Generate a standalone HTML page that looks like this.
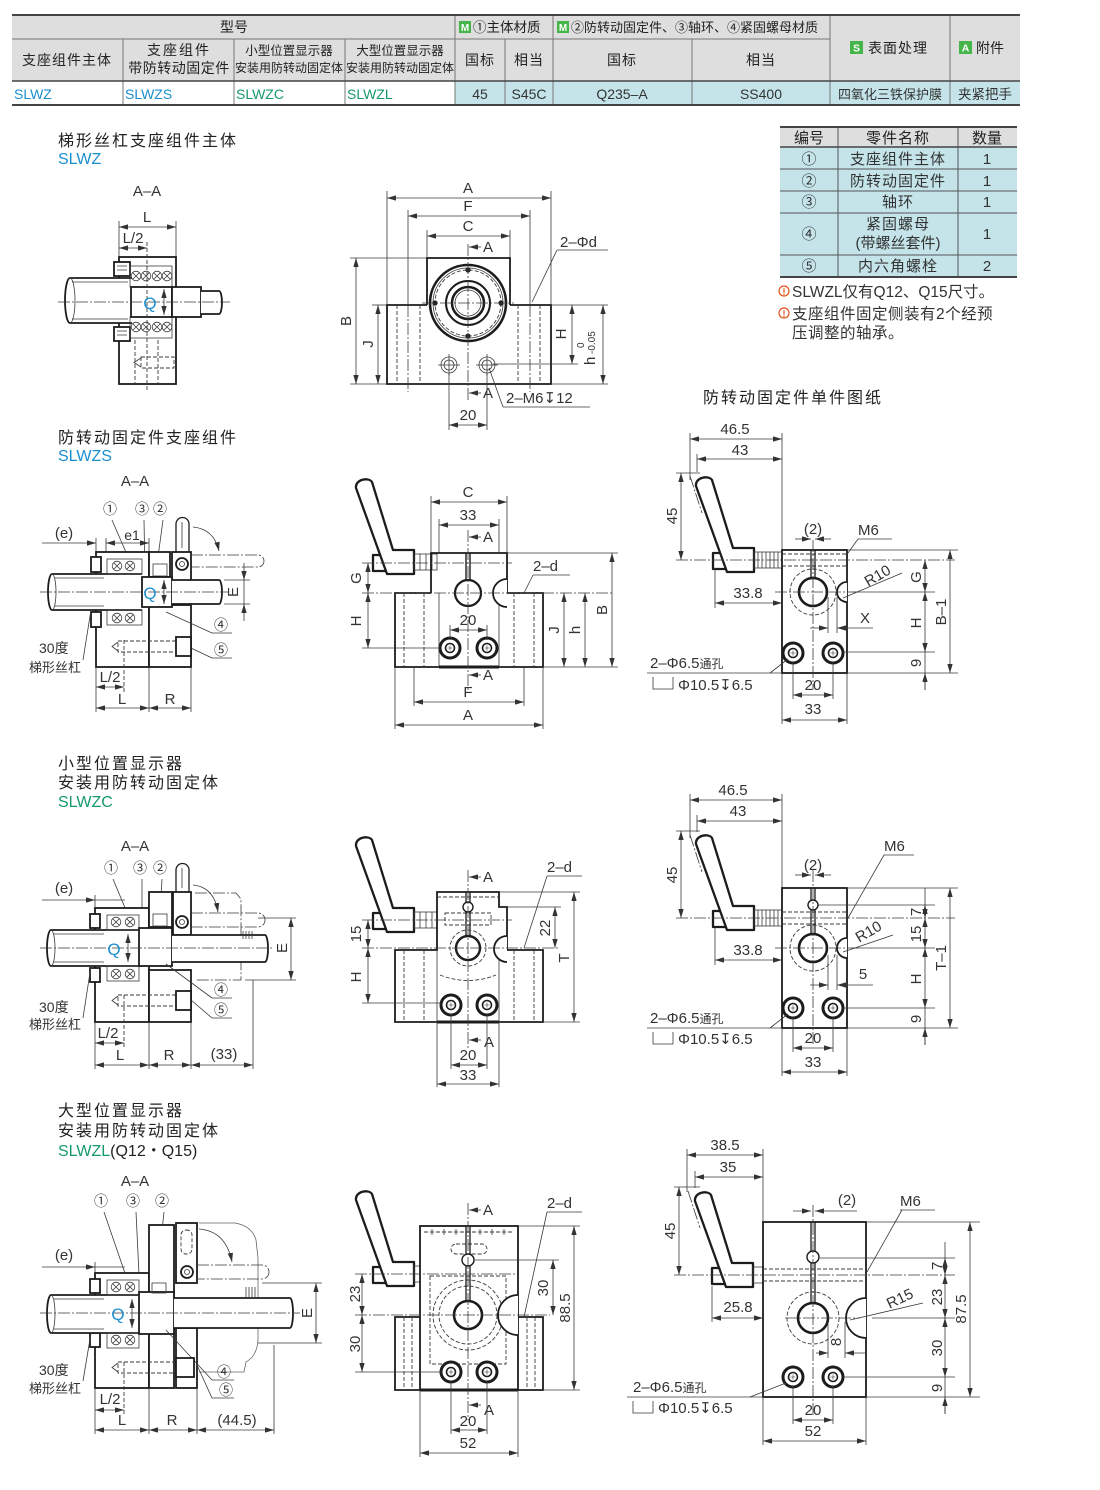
<!DOCTYPE html>
<html><head><meta charset="utf-8">
<style>
html,body{margin:0;padding:0;background:#fff}
svg{display:block}
.k{stroke:#1c1c1c;stroke-width:1.8;fill:none}
.kw{stroke:#1c1c1c;stroke-width:1.8;fill:#fff}
.hk{stroke:#1c1c1c;stroke-width:2.3;fill:#fff;stroke-linejoin:round}
.t{stroke:#3a3a3a;stroke-width:.8;fill:none}
.d{stroke:#3a3a3a;stroke-width:.9;fill:none;stroke-dasharray:4 2}
.c{stroke:#3a3a3a;stroke-width:.8;fill:none;stroke-dasharray:12 2 2 2}
.dm{stroke:#3a3a3a;stroke-width:.8;fill:none;marker-start:url(#a);marker-end:url(#a)}
.de{stroke:#3a3a3a;stroke-width:.8;fill:none;marker-end:url(#a)}
text{font-family:"Liberation Sans","Noto Sans CJK SC",sans-serif;font-size:15px;fill:#333}
.m{text-anchor:middle}
.bl{fill:#1a8fd0}
.gr{fill:#16996a}
.hd{fill:#222}
.ti{font-size:16px;letter-spacing:2px;fill:#222}
</style></head><body>
<svg width="1100" height="1490" viewBox="0 0 1100 1490" xmlns="http://www.w3.org/2000/svg">
<defs>
<marker id="a" viewBox="0 0 10 6" refX="10" refY="3" markerWidth="9" markerHeight="5.4" markerUnits="userSpaceOnUse" orient="auto-start-reverse"><path d="M0,0 L10,3 L0,6 Z" fill="#333"/></marker>
<g id="hd">
<rect class="hk" x="7" y="72" width="14" height="16"/>
<path class="hk" d="M-10,5 C-11,-4 3,-6 6,-1 L27,67 L48,67 L48,91 L21,91 Z"/>
</g>
<g id="bt"><circle r="10" fill="#fff" stroke="#1c1c1c" stroke-width="3"/><circle r="4.5" fill="none" stroke="#1c1c1c" stroke-width="1.6"/><path d="M-2.5,0H2.5M0,-2.5V2.5" stroke="#333" stroke-width=".6"/></g>
<g id="bl"><circle r="4.8" class="t"/><path d="M-3.4,-3.4L3.4,3.4M-3.4,3.4L3.4,-3.4" class="t"/></g>
</defs>
<rect width="1100" height="1490" fill="#fff"/>

<!-- ===== HEADER TABLE ===== -->
<rect x="12" y="15" width="1008" height="66" fill="#dedede"/>
<rect x="12" y="81" width="443" height="24" fill="#fff"/>
<rect x="455" y="81" width="565" height="24" fill="#c4e4ea"/>
<g stroke="#777" stroke-width="1">
<line x1="12" y1="39" x2="830" y2="39"/>
<line x1="123" y1="39" x2="123" y2="105"/>
<line x1="234" y1="39" x2="234" y2="105"/>
<line x1="345" y1="39" x2="345" y2="105"/>
<line x1="455" y1="15" x2="455" y2="105"/>
<line x1="505" y1="39" x2="505" y2="105"/>
<line x1="553" y1="15" x2="553" y2="105"/>
<line x1="692" y1="39" x2="692" y2="105"/>
<line x1="830" y1="15" x2="830" y2="105"/>
<line x1="950" y1="15" x2="950" y2="105"/>
</g>
<line x1="12" y1="81" x2="1020" y2="81" stroke="#444" stroke-width="1.6"/>
<line x1="12" y1="15" x2="1020" y2="15" stroke="#444" stroke-width="2"/>
<line x1="12" y1="105" x2="1020" y2="105" stroke="#444" stroke-width="2"/>
<text x="234" y="32" class="m hd" style="font-size:14px">型号</text>
<rect x="459" y="21" width="12" height="12" fill="#45b549"/><text x="465" y="31" class="m" style="font-size:10px;fill:#fff;font-weight:bold">M</text>
<text x="473" y="32" class="hd" style="font-size:13.5px">①主体材质</text>
<rect x="557" y="21" width="12" height="12" fill="#45b549"/><text x="563" y="31" class="m" style="font-size:10px;fill:#fff;font-weight:bold">M</text>
<text x="571" y="32" class="hd" style="font-size:13px">②防转动固定件、③轴环、④紧固螺母材质</text>
<rect x="850" y="41" width="13" height="13" fill="#45b549"/><text x="856.5" y="51.5" class="m" style="font-size:10.5px;fill:#fff;font-weight:bold">S</text>
<text x="868" y="53" class="hd" style="font-size:14px;letter-spacing:1px">表面处理</text>
<rect x="959" y="41" width="13" height="13" fill="#45b549"/><text x="965.5" y="51.5" class="m" style="font-size:10.5px;fill:#fff;font-weight:bold">A</text>
<text x="976" y="53" class="hd" style="font-size:14px">附件</text>
<text x="67" y="65" class="m hd" style="font-size:14px;letter-spacing:1px">支座组件主体</text>
<text x="179" y="55" class="m hd" style="font-size:14px;letter-spacing:2px">支座组件</text>
<text x="179" y="73" class="m hd" style="font-size:14px;letter-spacing:.5px">带防转动固定件</text>
<text x="289" y="55" class="m hd" style="font-size:12.5px">小型位置显示器</text>
<text x="289" y="72" class="m hd" style="font-size:12px">安装用防转动固定体</text>
<text x="400" y="55" class="m hd" style="font-size:12.5px">大型位置显示器</text>
<text x="400" y="72" class="m hd" style="font-size:12px">安装用防转动固定体</text>
<text x="480" y="65" class="m hd" style="font-size:14px;letter-spacing:1px">国标</text>
<text x="529" y="65" class="m hd" style="font-size:14px;letter-spacing:1px">相当</text>
<text x="622" y="65" class="m hd" style="font-size:14px;letter-spacing:1px">国标</text>
<text x="761" y="65" class="m hd" style="font-size:14px;letter-spacing:1px">相当</text>
<text x="14" y="99" class="bl" style="font-size:14px">SLWZ</text>
<text x="125" y="99" class="bl" style="font-size:14px">SLWZS</text>
<text x="236" y="99" class="gr" style="font-size:14px">SLWZC</text>
<text x="347" y="99" class="gr" style="font-size:14px">SLWZL</text>
<text x="480" y="99" class="m" style="font-size:14px">45</text>
<text x="529" y="99" class="m" style="font-size:14px">S45C</text>
<text x="622" y="99" class="m" style="font-size:14px">Q235–A</text>
<text x="761" y="99" class="m" style="font-size:14px">SS400</text>
<text x="890" y="99" class="m" style="font-size:13px">四氧化三铁保护膜</text>
<text x="985" y="99" class="m" style="font-size:13.5px">夹紧把手</text>

<!-- ===== PARTS TABLE ===== -->
<rect x="780" y="127" width="237" height="20" fill="#dedede"/>
<rect x="780" y="147" width="237" height="130" fill="#c4e4ea"/>
<g stroke="#555" stroke-width="1">
<line x1="780" y1="169" x2="1017" y2="169"/>
<line x1="780" y1="191" x2="1017" y2="191"/>
<line x1="780" y1="213" x2="1017" y2="213"/>
<line x1="780" y1="255" x2="1017" y2="255"/>
<line x1="838" y1="127" x2="838" y2="277"/>
<line x1="958" y1="127" x2="958" y2="277"/>
</g>
<line x1="780" y1="147" x2="1017" y2="147" stroke="#444" stroke-width="1.5"/>
<line x1="780" y1="127" x2="1017" y2="127" stroke="#444" stroke-width="2"/>
<line x1="780" y1="277" x2="1017" y2="277" stroke="#444" stroke-width="2"/>
<text x="809" y="143" class="m hd">编号</text>
<text x="898" y="143" class="m hd" style="letter-spacing:1px">零件名称</text>
<text x="987" y="143" class="m hd">数量</text>
<text x="809" y="164" class="m">①</text><text x="898" y="164" class="m" style="letter-spacing:1px">支座组件主体</text><text x="987" y="164" class="m">1</text>
<text x="809" y="186" class="m">②</text><text x="898" y="186" class="m" style="letter-spacing:1px">防转动固定件</text><text x="987" y="186" class="m">1</text>
<text x="809" y="207" class="m">③</text><text x="898" y="207" class="m" style="letter-spacing:1px">轴环</text><text x="987" y="207" class="m">1</text>
<text x="809" y="239" class="m">④</text><text x="898" y="229" class="m" style="letter-spacing:1px">紧固螺母</text><text x="898" y="248" class="m">(带螺丝套件)</text><text x="987" y="239" class="m">1</text>
<text x="809" y="271" class="m">⑤</text><text x="898" y="271" class="m" style="letter-spacing:1px">内六角螺栓</text><text x="987" y="271" class="m">2</text>
<circle cx="784" cy="291" r="5" fill="none" stroke="#e0541c" stroke-width="1.2"/><text x="784" y="295" class="m" style="font-size:9px;fill:#e0541c;font-weight:bold">!</text>
<text x="792" y="297" style="font-size:15.5px">SLWZL仅有Q12、Q15尺寸。</text>
<circle cx="784" cy="313" r="5" fill="none" stroke="#e0541c" stroke-width="1.2"/><text x="784" y="317" class="m" style="font-size:9px;fill:#e0541c;font-weight:bold">!</text>
<text x="792" y="319" style="font-size:15.5px;letter-spacing:.5px">支座组件固定侧装有2个经预</text>
<text x="792" y="338" style="font-size:15.5px;letter-spacing:.5px">压调整的轴承。</text>

<!-- ===== ROW 1 ===== -->
<text x="58" y="146" class="ti">梯形丝杠支座组件主体</text>
<text x="58" y="164" class="bl" style="font-size:16px">SLWZ</text>
<text x="147" y="196" class="m">A–A</text>
<line class="t" x1="119" y1="221" x2="119" y2="257"/>
<line class="t" x1="176" y1="221" x2="176" y2="257"/>
<line class="dm" x1="119" y1="227" x2="176" y2="227"/>
<text x="147" y="222" class="m">L</text>
<line class="dm" x1="119" y1="248" x2="147" y2="248"/>
<text x="133" y="243" class="m">L/2</text>
<rect class="kw" x="119" y="257" width="57" height="127"/>
<rect class="kw" x="114" y="262" width="16" height="14"/>
<rect class="kw" x="114" y="327" width="16" height="14"/>
<path class="t" d="M117,266h10M117,270h10M117,331h10M117,335h10"/>
<path class="kw" d="M132,278 H70 A5,22.5 0 0 0 70,323 H132"/>
<path class="t" d="M70,278 A5,22.5 0 0 1 70,323"/>
<line class="t" x1="72" y1="282" x2="128" y2="282"/>
<line class="t" x1="72" y1="319" x2="128" y2="319"/>
<rect class="t" x="130" y="266" width="42" height="21"/>
<rect class="t" x="130" y="317" width="42" height="21"/>
<use href="#bl" x="136" y="276"/><use href="#bl" x="146" y="276"/><use href="#bl" x="157" y="276"/><use href="#bl" x="167" y="276"/>
<use href="#bl" x="136" y="327"/><use href="#bl" x="146" y="327"/><use href="#bl" x="157" y="327"/><use href="#bl" x="167" y="327"/>
<rect class="kw" x="131" y="287" width="41" height="30"/>
<rect class="kw" x="172" y="287" width="29" height="30"/>
<path class="kw" d="M201,291 H219 A3,11.5 0 0 1 219,314 H201"/>
<line class="c" x1="58" y1="302" x2="230" y2="302"/>
<line class="d" x1="147" y1="242" x2="147" y2="392"/>
<text x="150" y="309" class="m bl" style="font-size:17px">Q</text>
<line class="dm" x1="164" y1="289" x2="164" y2="315"/>
<line class="d" x1="135" y1="340" x2="135" y2="384"/>
<line class="d" x1="158" y1="340" x2="158" y2="384"/>
<rect class="d" x="141" y="357" width="33" height="11"/>
<path class="t" d="M141,358 L134,362.5 L141,367"/>

<!-- R1 front -->
<line class="t" x1="387" y1="191" x2="387" y2="305"/>
<line class="t" x1="551" y1="191" x2="551" y2="305"/>
<line class="dm" x1="387" y1="198" x2="551" y2="198"/>
<text x="468" y="193" class="m">A</text>
<line class="t" x1="408" y1="210" x2="408" y2="305"/>
<line class="t" x1="530" y1="210" x2="530" y2="305"/>
<line class="dm" x1="408" y1="216" x2="530" y2="216"/>
<text x="468" y="211" class="m">F</text>
<line class="t" x1="427" y1="230" x2="427" y2="258"/>
<line class="t" x1="510" y1="230" x2="510" y2="258"/>
<line class="dm" x1="427" y1="236" x2="510" y2="236"/>
<text x="468" y="231" class="m">C</text>
<path class="k" d="M427,305 V258 H510 V305"/>
<path class="k" d="M427,305 H387 V384 H551 V305 H510"/>
<line class="d" x1="397" y1="305" x2="397" y2="384"/><line class="c" x1="408" y1="305" x2="408" y2="392"/><line class="d" x1="420" y1="305" x2="420" y2="384"/>
<line class="d" x1="518" y1="305" x2="518" y2="384"/><line class="c" x1="530" y1="305" x2="530" y2="392"/><line class="d" x1="540" y1="305" x2="540" y2="384"/>
<circle cx="468" cy="303" r="38" fill="#fff" stroke="#1c1c1c" stroke-width="2.6"/>
<circle cx="468" cy="303" r="35" class="t"/>
<circle cx="468" cy="303" r="33" class="d"/>
<circle cx="468" cy="303" r="22" class="k" style="stroke-width:2"/>
<circle cx="468" cy="303" r="16" class="k" style="stroke-width:2.5"/>
<circle cx="468" cy="303" r="13" class="t"/>
<circle cx="468" cy="270" r="2.6" fill="#222"/><circle cx="468" cy="336" r="2.6" fill="#222"/><circle cx="435" cy="303" r="2.6" fill="#222"/><circle cx="501" cy="303" r="2.6" fill="#222"/>
<line class="c" x1="468" y1="244" x2="468" y2="400"/>
<line class="c" x1="422" y1="303" x2="514" y2="303"/>
<circle cx="449" cy="365" r="8" class="t"/><circle cx="449" cy="365" r="5" class="t"/><path class="t" d="M438,365h22M449,354v22"/>
<circle cx="487" cy="365" r="8" class="t"/><circle cx="487" cy="365" r="5" class="t"/><path class="t" d="M476,365h22M487,354v22"/>
<line class="t" x1="350" y1="258" x2="427" y2="258"/>
<line class="t" x1="350" y1="384" x2="387" y2="384"/>
<line class="dm" x1="356" y1="258" x2="356" y2="384"/>
<text transform="translate(351,321) rotate(-90)" class="m">B</text>
<line class="t" x1="372" y1="305" x2="387" y2="305"/>
<line class="dm" x1="378" y1="305" x2="378" y2="384"/>
<text transform="translate(373,344) rotate(-90)" class="m">J</text>
<line class="t" x1="551" y1="305" x2="608" y2="305"/>
<line class="t" x1="551" y1="384" x2="608" y2="384"/>
<line class="t" x1="493" y1="364" x2="578" y2="364"/>
<line class="dm" x1="572" y1="305" x2="572" y2="364"/>
<text transform="translate(566,334) rotate(-90)" class="m">H</text>
<line class="dm" x1="603" y1="305" x2="603" y2="384"/>
<g transform="translate(595,345) rotate(-90)"><text x="-20" y="0">h</text><text x="-9" y="0" style="font-size:10px">-0.05</text><text x="-3" y="-11" style="font-size:10px">0</text></g>
<line class="t" x1="557" y1="250" x2="608" y2="250"/>
<line class="t" x1="557" y1="250" x2="532" y2="302"/>
<text x="560" y="247">2–Φd</text>
<line class="de" x1="481" y1="247" x2="469" y2="247"/>
<text x="483" y="252">A</text>
<line class="de" x1="481" y1="393" x2="469" y2="393"/>
<text x="483" y="398">A</text>
<line class="t" x1="489" y1="368" x2="503" y2="407"/>
<line class="t" x1="503" y1="407" x2="590" y2="407"/>
<text x="506" y="403">2–M6↧12</text>
<line class="t" x1="449" y1="373" x2="449" y2="430"/>
<line class="t" x1="487" y1="373" x2="487" y2="430"/>
<line class="dm" x1="449" y1="425" x2="487" y2="425"/>
<text x="468" y="420" class="m">20</text>

<!-- ===== ROW 2 ===== -->
<text x="58" y="443" class="ti">防转动固定件支座组件</text>
<text x="58" y="461" class="bl" style="font-size:16px">SLWZS</text>
<text x="135" y="486" class="m">A–A</text>
<text x="110" y="514" class="m" style="font-size:14px">①</text>
<text x="142" y="514" class="m" style="font-size:14px">③</text>
<text x="160" y="514" class="m" style="font-size:14px">②</text>
<line class="t" x1="112" y1="520" x2="128" y2="557"/>
<line class="t" x1="144" y1="520" x2="145" y2="575"/>
<line class="t" x1="163" y1="520" x2="158" y2="557"/>
<text x="64" y="538" class="m">(e)</text>
<line class="de" x1="42" y1="543" x2="96" y2="543"/>
<line class="dm" x1="106" y1="543" x2="149" y2="543"/>
<text x="132" y="540" class="m" style="font-size:14px">e1</text>
<line class="t" x1="96" y1="538" x2="96" y2="552"/>
<line class="t" x1="106" y1="538" x2="106" y2="558"/>
<line class="t" x1="149" y1="538" x2="149" y2="552"/>
<rect class="kw" x="96" y="552" width="53" height="115"/>
<rect class="kw" x="149" y="552" width="21" height="25"/>
<rect class="t" x="153" y="564" width="14" height="12"/>
<rect class="kw" x="149" y="605" width="42" height="62"/>
<rect class="kw" x="172" y="552" width="19" height="34"/>
<circle cx="182" cy="564" r="6" class="k"/><circle cx="182" cy="564" r="2.5" class="t"/>
<path class="k" d="M176,552 V524 A6.5,6.5 0 0 1 189,524 V552" style="stroke-width:1.3"/>
<line class="t" x1="182" y1="522" x2="182" y2="548"/>
<path class="c" d="M191,555 H258 A6,6 0 0 1 258,567 H191"/>
<path class="de" d="M193,527 Q214,529 219,551"/>
<rect class="kw" x="91" y="557" width="10" height="15"/>
<rect class="kw" x="91" y="612" width="10" height="15"/>
<path class="kw" d="M142,574 H52 A4,18 0 0 0 52,610 H142"/>
<path class="t" d="M52,574 A4,18 0 0 1 52,610"/>
<line class="t" x1="55" y1="578" x2="104" y2="578"/>
<line class="t" x1="55" y1="606" x2="104" y2="606"/>
<rect class="t" x="107" y="559" width="35" height="15"/>
<rect class="t" x="107" y="610" width="35" height="15"/>
<use href="#bl" x="117" y="566"/><use href="#bl" x="130" y="566"/>
<use href="#bl" x="117" y="618"/><use href="#bl" x="130" y="618"/>
<rect class="kw" x="142" y="577" width="30" height="30"/>
<path class="kw" d="M172,580 H219 A3,12 0 0 1 219,604 H172"/>
<line class="c" x1="40" y1="592" x2="228" y2="592"/>
<text x="150" y="599" class="m bl" style="font-size:17px">Q</text>
<line class="dm" x1="164" y1="580" x2="164" y2="604"/>
<line class="t" x1="224" y1="580" x2="250" y2="580"/>
<line class="t" x1="224" y1="604" x2="250" y2="604"/>
<line class="de" x1="244" y1="563" x2="244" y2="580"/>
<line class="t" x1="244" y1="580" x2="244" y2="604"/>
<line class="de" x1="244" y1="621" x2="244" y2="604"/>
<text transform="translate(238,592) rotate(-90)" class="m">E</text>
<line class="t" x1="166" y1="612" x2="212" y2="633"/><line class="t" x1="212" y1="633" x2="232" y2="633"/>
<text x="221" y="630" class="m" style="font-size:14px">④</text>
<line class="t" x1="191" y1="648" x2="212" y2="658"/><line class="t" x1="212" y1="658" x2="232" y2="658"/>
<text x="221" y="655" class="m" style="font-size:14px">⑤</text>
<rect class="d" x="118" y="641" width="58" height="11"/>
<path class="t" d="M118,642 L112,646.5 L118,651"/>
<rect class="kw" x="176" y="637" width="15" height="19"/>
<text x="39" y="653" style="font-size:14px">30度</text>
<text x="29" y="672" style="font-size:13px">梯形丝杠</text>
<line class="t" x1="83" y1="660" x2="91" y2="610"/>
<line class="d" x1="124" y1="640" x2="124" y2="692"/>
<line class="t" x1="96" y1="667" x2="96" y2="712"/>
<line class="t" x1="149" y1="667" x2="149" y2="712"/>
<line class="t" x1="191" y1="667" x2="191" y2="712"/>
<line class="dm" x1="96" y1="687" x2="124" y2="687"/>
<text x="110" y="682" class="m">L/2</text>
<line class="dm" x1="96" y1="708" x2="149" y2="708"/>
<line class="dm" x1="149" y1="708" x2="191" y2="708"/>
<text x="122" y="704" class="m">L</text>
<text x="170" y="704" class="m">R</text>

<!-- R2 front -->
<use href="#hd" transform="translate(366,483)"/>
<rect class="t" x="414" y="554" width="23" height="16"/>
<path class="t" d="M420,554v16M426,554v16M432,554v16"/>
<line class="t" x1="431" y1="496" x2="431" y2="553"/>
<line class="t" x1="507" y1="496" x2="507" y2="553"/>
<line class="dm" x1="431" y1="502" x2="507" y2="502"/>
<text x="468" y="497" class="m">C</text>
<line class="t" x1="439" y1="519" x2="439" y2="553"/>
<line class="t" x1="499" y1="519" x2="499" y2="553"/>
<line class="dm" x1="439" y1="525" x2="499" y2="525"/>
<text x="468" y="520" class="m">33</text>
<path class="k" d="M431,593 V553 H507 V593"/>
<path class="k" d="M431,593 H395 V667 H543 V593 H507"/>
<line class="t" x1="439" y1="593" x2="439" y2="667"/>
<line class="t" x1="499" y1="593" x2="499" y2="667"/>
<line x1="439" y1="667" x2="499" y2="667" stroke="#1c1c1c" stroke-width="3"/>
<line class="d" x1="404" y1="593" x2="404" y2="667"/><line class="d" x1="424" y1="593" x2="424" y2="667"/>
<line class="d" x1="514" y1="593" x2="514" y2="667"/><line class="d" x1="534" y1="593" x2="534" y2="667"/>
<path d="M466,553 V580 M470,553 V580" stroke="#1c1c1c" stroke-width="1.4"/>
<circle cx="468" cy="593" r="13" class="k" style="stroke-width:2.2"/>
<path class="kw" d="M507,579 A14,14 0 0 0 507,607"/>
<use href="#bt" x="450" y="648"/><use href="#bt" x="487" y="648"/>
<line class="c" x1="468" y1="530" x2="468" y2="690"/>
<line class="c" x1="362" y1="563" x2="512" y2="563"/>
<line class="c" x1="362" y1="593" x2="612" y2="593"/>
<line class="de" x1="481" y1="537" x2="469" y2="537"/>
<text x="483" y="542">A</text>
<line class="dm" x1="368" y1="563" x2="368" y2="593"/>
<text transform="translate(361,578) rotate(-90)" class="m">G</text>
<line class="t" x1="362" y1="648" x2="440" y2="648"/>
<line class="dm" x1="368" y1="593" x2="368" y2="648"/>
<text transform="translate(361,621) rotate(-90)" class="m">H</text>
<text x="533" y="571">2–d</text>
<line class="t" x1="533" y1="575" x2="570" y2="575"/>
<line class="t" x1="533" y1="575" x2="524" y2="593"/>
<line class="t" x1="450" y1="625" x2="450" y2="640"/>
<line class="t" x1="487" y1="625" x2="487" y2="640"/>
<line class="dm" x1="450" y1="630" x2="487" y2="630"/>
<text x="468" y="625" class="m">20</text>
<line class="t" x1="507" y1="553" x2="618" y2="553"/>
<line class="t" x1="543" y1="667" x2="618" y2="667"/>
<line class="dm" x1="564" y1="593" x2="564" y2="667"/>
<text transform="translate(559,630) rotate(-90)" class="m">J</text>
<line class="dm" x1="585" y1="593" x2="585" y2="667"/>
<text transform="translate(580,630) rotate(-90)" class="m">h</text>
<line class="dm" x1="612" y1="553" x2="612" y2="667"/>
<text transform="translate(607,610) rotate(-90)" class="m">B</text>
<line class="de" x1="481" y1="675" x2="469" y2="675"/>
<text x="483" y="680">A</text>
<line class="t" x1="414" y1="667" x2="414" y2="706"/>
<line class="t" x1="524" y1="667" x2="524" y2="706"/>
<line class="dm" x1="414" y1="702" x2="524" y2="702"/>
<text x="468" y="697" class="m">F</text>
<line class="t" x1="395" y1="667" x2="395" y2="729"/>
<line class="t" x1="543" y1="667" x2="543" y2="729"/>
<line class="dm" x1="395" y1="725" x2="543" y2="725"/>
<text x="468" y="720" class="m">A</text>

<!-- R2 right -->
<text x="703" y="403" class="ti">防转动固定件单件图纸</text>
<line class="t" x1="690" y1="433" x2="690" y2="480"/>
<line class="t" x1="782" y1="433" x2="782" y2="550"/>
<line class="dm" x1="690" y1="439" x2="782" y2="439"/>
<text x="735" y="434" class="m">46.5</text>
<line class="t" x1="697" y1="454" x2="697" y2="472"/>
<line class="dm" x1="697" y1="459" x2="782" y2="459"/>
<text x="740" y="455" class="m">43</text>
<line class="t" x1="676" y1="473" x2="700" y2="473"/>
<line class="dm" x1="681" y1="473" x2="681" y2="560"/>
<text transform="translate(677,516) rotate(-90)" class="m">45</text>
<line class="c" x1="690" y1="476" x2="702" y2="513"/>
<use href="#hd" transform="translate(706,481)"/>
<rect class="t" x="754" y="552" width="28" height="16"/>
<path class="t" d="M758,552v16M762,552v16M766,552v16M770,552v16M774,552v16M778,552v16"/>
<rect class="kw" x="782" y="550" width="65" height="123"/>
<line class="d" x1="782" y1="554" x2="847" y2="554"/>
<line class="d" x1="782" y1="566" x2="847" y2="566"/>
<line class="c" x1="676" y1="560" x2="955" y2="560"/>
<path d="M811,550 V579 M815,550 V579" stroke="#1c1c1c" stroke-width="1.3"/>
<circle cx="813" cy="592" r="23" class="d"/>
<circle cx="813" cy="592" r="14" fill="#fff" stroke="#1c1c1c" stroke-width="2.6"/>
<path class="kw" d="M847,582 A10,10 0 0 0 847,602"/>
<line class="c" x1="813" y1="540" x2="813" y2="690"/>
<line class="c" x1="775" y1="592" x2="860" y2="592"/>
<use href="#bt" x="793" y="653"/><use href="#bt" x="833" y="653"/>
<line class="de" x1="795" y1="539" x2="811" y2="539"/>
<line class="de" x1="831" y1="539" x2="815" y2="539"/>
<text x="813" y="534" class="m">(2)</text>
<text x="858" y="535">M6</text>
<line class="t" x1="858" y1="539" x2="892" y2="539"/>
<line class="t" x1="848" y1="553" x2="858" y2="539"/>
<text transform="translate(880,580) rotate(-30)" class="m">R10</text>
<line class="t" x1="843" y1="598" x2="902" y2="573"/>
<line class="t" x1="847" y1="550" x2="958" y2="550"/>
<line class="t" x1="852" y1="592" x2="935" y2="592"/>
<line class="t" x1="843" y1="652" x2="935" y2="652"/>
<line class="t" x1="847" y1="673" x2="958" y2="673"/>
<line class="dm" x1="925" y1="560" x2="925" y2="592"/>
<text transform="translate(921,577) rotate(-90)" class="m">G</text>
<line class="dm" x1="925" y1="592" x2="925" y2="652"/>
<text transform="translate(921,623) rotate(-90)" class="m">H</text>
<line class="t" x1="925" y1="652" x2="925" y2="690"/>
<line class="de" x1="925" y1="690" x2="925" y2="673"/>
<text transform="translate(921,663) rotate(-90)" class="m">9</text>
<line class="dm" x1="950" y1="550" x2="950" y2="673"/>
<text transform="translate(946,612) rotate(-90)" class="m">B–1</text>
<line class="t" x1="828" y1="597" x2="828" y2="633"/>
<line class="t" x1="837" y1="597" x2="837" y2="633"/>
<line class="de" x1="810" y1="628" x2="828" y2="628"/>
<line class="de" x1="873" y1="628" x2="837" y2="628"/>
<text x="865" y="623" class="m">X</text>
<line class="t" x1="715" y1="568" x2="715" y2="608"/>
<line class="dm" x1="715" y1="603" x2="782" y2="603"/>
<text x="748" y="598" class="m">33.8</text>
<text x="650" y="668">2–Φ6.5<tspan style="font-size:12px">通孔</tspan></text>
<line class="t" x1="647" y1="673" x2="782" y2="673"/>
<line class="t" x1="788" y1="659" x2="770" y2="673"/>
<path class="t" d="M653,677 V689 H673 V677"/>
<text x="678" y="690">Φ10.5↧6.5</text>
<line class="t" x1="793" y1="662" x2="793" y2="699"/>
<line class="t" x1="833" y1="662" x2="833" y2="699"/>
<line class="dm" x1="793" y1="695" x2="833" y2="695"/>
<text x="813" y="690" class="m">20</text>
<line class="t" x1="782" y1="673" x2="782" y2="724"/>
<line class="t" x1="847" y1="673" x2="847" y2="724"/>
<line class="dm" x1="782" y1="720" x2="847" y2="720"/>
<text x="813" y="714" class="m">33</text>

<!-- ===== ROW 3 ===== -->
<text x="58" y="769" class="ti">小型位置显示器</text>
<text x="58" y="788" class="ti">安装用防转动固定体</text>
<text x="58" y="807" class="gr" style="font-size:16px">SLWZC</text>
<text x="135" y="851" class="m">A–A</text>
<text x="111" y="873" class="m" style="font-size:14px">①</text>
<text x="140" y="873" class="m" style="font-size:14px">③</text>
<text x="160" y="873" class="m" style="font-size:14px">②</text>
<line class="t" x1="113" y1="879" x2="128" y2="915"/>
<line class="t" x1="142" y1="879" x2="142" y2="930"/>
<line class="t" x1="162" y1="879" x2="160" y2="915"/>
<text x="64" y="893" class="m">(e)</text>
<line class="de" x1="42" y1="900" x2="95" y2="900"/>
<line class="t" x1="95" y1="900" x2="125" y2="900"/>
<line class="t" x1="95" y1="895" x2="95" y2="908"/>
<rect class="kw" x="95" y="908" width="54" height="114"/>
<rect class="kw" x="149" y="892" width="23" height="35"/>
<rect class="t" x="153" y="914" width="14" height="12"/>
<rect class="kw" x="149" y="970" width="42" height="52"/>
<rect class="kw" x="173" y="892" width="18" height="43"/>
<circle cx="182" cy="922" r="6" class="k"/><circle cx="182" cy="922" r="2.5" class="t"/>
<path class="k" d="M176,892 V870 A6.5,6.5 0 0 1 189,870 V892" style="stroke-width:1.3"/>
<line class="t" x1="182" y1="868" x2="182" y2="888"/>
<path class="c" d="M195,893 H236 L241,899 V980 H195"/>
<path class="c" d="M191,913 H258 A7,7 0 0 1 258,927 H191"/>
<path class="de" d="M193,885 Q214,887 218,912"/>
<rect class="kw" x="90" y="914" width="10" height="14"/>
<rect class="kw" x="90" y="968" width="10" height="14"/>
<path class="kw" d="M142,930 H51 A4,18 0 0 0 51,966 H142"/>
<path class="t" d="M51,930 A4,18 0 0 1 51,966"/>
<line class="t" x1="54" y1="934" x2="104" y2="934"/>
<line class="t" x1="54" y1="962" x2="104" y2="962"/>
<rect class="t" x="107" y="915" width="32" height="15"/>
<rect class="t" x="107" y="966" width="32" height="15"/>
<use href="#bl" x="116" y="922"/><use href="#bl" x="130" y="922"/>
<use href="#bl" x="116" y="974"/><use href="#bl" x="130" y="974"/>
<rect class="kw" x="139" y="928" width="33" height="38"/>
<path class="kw" d="M172,935 H265 A3,13.5 0 0 1 265,962 H172"/>
<path class="t" d="M243,931v8M246,931v8M249,931v8M252,931v8"/>
<line class="c" x1="40" y1="948" x2="272" y2="948"/>
<text x="114" y="955" class="m bl" style="font-size:17px">Q</text>
<line class="dm" x1="128" y1="934" x2="128" y2="962"/>
<line class="t" x1="258" y1="918" x2="296" y2="918"/>
<line class="t" x1="245" y1="980" x2="296" y2="980"/>
<line class="dm" x1="291" y1="918" x2="291" y2="980"/>
<text transform="translate(287,948) rotate(-90)" class="m">E</text>
<line class="t" x1="166" y1="964" x2="212" y2="998"/><line class="t" x1="212" y1="998" x2="232" y2="998"/>
<text x="221" y="995" class="m" style="font-size:14px">④</text>
<line class="t" x1="191" y1="1000" x2="212" y2="1018"/><line class="t" x1="212" y1="1018" x2="232" y2="1018"/>
<text x="221" y="1015" class="m" style="font-size:14px">⑤</text>
<rect class="d" x="118" y="995" width="58" height="11"/>
<path class="t" d="M118,996 L112,1000.5 L118,1005"/>
<rect class="kw" x="176" y="991" width="15" height="19"/>
<text x="39" y="1012" style="font-size:14px">30度</text>
<text x="29" y="1029" style="font-size:13px">梯形丝杠</text>
<line class="t" x1="83" y1="1018" x2="91" y2="966"/>
<line class="d" x1="124" y1="995" x2="124" y2="1047"/>
<line class="t" x1="95" y1="1022" x2="95" y2="1069"/>
<line class="t" x1="149" y1="1022" x2="149" y2="1069"/>
<line class="t" x1="191" y1="1022" x2="191" y2="1069"/>
<line class="t" x1="253" y1="980" x2="253" y2="1069"/>
<line class="dm" x1="95" y1="1043" x2="124" y2="1043"/>
<text x="108" y="1038" class="m">L/2</text>
<line class="dm" x1="95" y1="1065" x2="149" y2="1065"/>
<line class="dm" x1="149" y1="1065" x2="191" y2="1065"/>
<line class="dm" x1="191" y1="1065" x2="253" y2="1065"/>
<text x="120" y="1060" class="m">L</text>
<text x="169" y="1060" class="m">R</text>
<text x="224" y="1059" class="m">(33)</text>

<!-- R3 front -->
<use href="#hd" transform="translate(366,841)"/>
<rect class="t" x="414" y="912" width="23" height="16"/>
<path class="t" d="M420,912v16M426,912v16M432,912v16"/>
<path class="k" d="M437,950 H395 V1022 H543 V950 H507 V907 H499 V892 H437 Z"/>
<line class="t" x1="437" y1="950" x2="437" y2="1022"/>
<line class="t" x1="499" y1="950" x2="499" y2="1022"/>
<line x1="437" y1="1022" x2="499" y2="1022" stroke="#1c1c1c" stroke-width="3"/>
<line class="d" x1="404" y1="950" x2="404" y2="1022"/><line class="d" x1="424" y1="950" x2="424" y2="1022"/>
<line class="d" x1="514" y1="950" x2="514" y2="1022"/><line class="d" x1="534" y1="950" x2="534" y2="1022"/>
<line class="d" x1="437" y1="897" x2="499" y2="897"/>
<rect class="d" x="445" y="913" width="46" height="12"/>
<path d="M466,892 V902 M470,892 V902 M466,912 V936 M470,912 V936" stroke="#1c1c1c" stroke-width="1.3"/>
<circle cx="468" cy="907" r="5" class="k" style="stroke-width:1.4"/>
<circle cx="468" cy="948" r="18" class="d"/>
<circle cx="468" cy="948" r="12" fill="#fff" stroke="#1c1c1c" stroke-width="2.4"/>
<path class="d" d="M440,975 Q468,986 496,975"/>
<path class="kw" d="M507,936 A12,12 0 0 0 507,962"/>
<use href="#bt" x="451" y="1005"/><use href="#bt" x="487" y="1005"/>
<line class="c" x1="468" y1="870" x2="468" y2="1050"/>
<line class="c" x1="362" y1="920" x2="512" y2="920"/>
<line class="c" x1="362" y1="948" x2="560" y2="948"/>
<line class="de" x1="481" y1="877" x2="469" y2="877"/>
<text x="483" y="882">A</text>
<line class="dm" x1="368" y1="920" x2="368" y2="948"/>
<text transform="translate(361,934) rotate(-90)" class="m">15</text>
<line class="t" x1="362" y1="1003" x2="441" y2="1003"/>
<line class="dm" x1="368" y1="948" x2="368" y2="1003"/>
<text transform="translate(361,977) rotate(-90)" class="m">H</text>
<line class="t" x1="507" y1="907" x2="561" y2="907"/>
<line class="dm" x1="555" y1="907" x2="555" y2="948"/>
<text transform="translate(550,928) rotate(-90)" class="m">22</text>
<line class="t" x1="499" y1="892" x2="580" y2="892"/>
<line class="t" x1="543" y1="1022" x2="580" y2="1022"/>
<line class="dm" x1="574" y1="892" x2="574" y2="1022"/>
<text transform="translate(569,958) rotate(-90)" class="m">T</text>
<text x="547" y="872">2–d</text>
<line class="t" x1="547" y1="876" x2="582" y2="876"/>
<line class="t" x1="547" y1="876" x2="524" y2="948"/>
<line class="de" x1="481" y1="1040" x2="469" y2="1040"/>
<text x="484" y="1047">A</text>
<line class="t" x1="451" y1="1014" x2="451" y2="1069"/>
<line class="t" x1="487" y1="1014" x2="487" y2="1069"/>
<line class="dm" x1="451" y1="1065" x2="487" y2="1065"/>
<text x="468" y="1060" class="m">20</text>
<line class="t" x1="437" y1="1022" x2="437" y2="1087"/>
<line class="t" x1="499" y1="1022" x2="499" y2="1087"/>
<line class="dm" x1="437" y1="1084" x2="499" y2="1084"/>
<text x="468" y="1080" class="m">33</text>

<!-- R3 right -->
<line class="t" x1="690" y1="794" x2="690" y2="838"/>
<line class="t" x1="782" y1="794" x2="782" y2="888"/>
<line class="dm" x1="690" y1="800" x2="782" y2="800"/>
<text x="733" y="795" class="m">46.5</text>
<line class="t" x1="697" y1="815" x2="697" y2="832"/>
<line class="dm" x1="697" y1="821" x2="782" y2="821"/>
<text x="738" y="816" class="m">43</text>
<line class="t" x1="676" y1="831" x2="700" y2="831"/>
<line class="dm" x1="681" y1="831" x2="681" y2="918"/>
<text transform="translate(677,875) rotate(-90)" class="m">45</text>
<line class="c" x1="690" y1="835" x2="702" y2="872"/>
<use href="#hd" transform="translate(706,839)"/>
<rect class="t" x="754" y="910" width="28" height="16"/>
<path class="t" d="M758,910v16M762,910v16M766,910v16M770,910v16M774,910v16M778,910v16"/>
<rect class="kw" x="782" y="888" width="65" height="140"/>
<line class="d" x1="782" y1="912" x2="847" y2="912"/>
<line class="d" x1="782" y1="924" x2="847" y2="924"/>
<path d="M811,888 V900 M815,888 V900 M811,910 V934 M815,910 V934" stroke="#1c1c1c" stroke-width="1.3"/>
<circle cx="813" cy="905" r="5" class="k" style="stroke-width:1.4"/>
<circle cx="813" cy="948" r="23" class="d"/>
<circle cx="813" cy="948" r="14" fill="#fff" stroke="#1c1c1c" stroke-width="2.6"/>
<path class="kw" d="M847,938 A10,10 0 0 0 847,958"/>
<line class="c" x1="813" y1="870" x2="813" y2="1045"/>
<line class="c" x1="775" y1="948" x2="860" y2="948"/>
<line class="c" x1="676" y1="918" x2="955" y2="918"/>
<use href="#bt" x="793" y="1008"/><use href="#bt" x="833" y="1008"/>
<line class="de" x1="795" y1="875" x2="811" y2="875"/>
<line class="de" x1="831" y1="875" x2="815" y2="875"/>
<text x="813" y="870" class="m">(2)</text>
<text x="884" y="851">M6</text>
<line class="t" x1="884" y1="855" x2="914" y2="855"/>
<line class="t" x1="848" y1="918" x2="884" y2="855"/>
<text transform="translate(871,936) rotate(-30)" class="m">R10</text>
<line class="t" x1="843" y1="952" x2="893" y2="935"/>
<line class="t" x1="847" y1="888" x2="958" y2="888"/>
<line class="t" x1="818" y1="905" x2="935" y2="905"/>
<line class="t" x1="852" y1="948" x2="935" y2="948"/>
<line class="t" x1="843" y1="1008" x2="935" y2="1008"/>
<line class="t" x1="847" y1="1028" x2="958" y2="1028"/>
<line class="t" x1="925" y1="888" x2="925" y2="905"/>
<line class="dm" x1="925" y1="905" x2="925" y2="918"/>
<text transform="translate(921,912) rotate(-90)" class="m">7</text>
<line class="dm" x1="925" y1="918" x2="925" y2="948"/>
<text transform="translate(921,934) rotate(-90)" class="m">15</text>
<line class="dm" x1="925" y1="948" x2="925" y2="1008"/>
<text transform="translate(921,979) rotate(-90)" class="m">H</text>
<line class="t" x1="925" y1="1008" x2="925" y2="1045"/>
<line class="de" x1="925" y1="1045" x2="925" y2="1028"/>
<text transform="translate(921,1019) rotate(-90)" class="m">9</text>
<line class="dm" x1="950" y1="888" x2="950" y2="1028"/>
<text transform="translate(946,958) rotate(-90)" class="m">T–1</text>
<line class="t" x1="828" y1="955" x2="828" y2="990"/>
<line class="t" x1="837" y1="955" x2="837" y2="990"/>
<line class="de" x1="810" y1="985" x2="828" y2="985"/>
<line class="de" x1="873" y1="985" x2="837" y2="985"/>
<text x="863" y="979" class="m">5</text>
<line class="t" x1="715" y1="928" x2="715" y2="965"/>
<line class="dm" x1="715" y1="960" x2="782" y2="960"/>
<text x="748" y="955" class="m">33.8</text>
<text x="650" y="1023">2–Φ6.5<tspan style="font-size:12px">通孔</tspan></text>
<line class="t" x1="647" y1="1028" x2="782" y2="1028"/>
<line class="t" x1="788" y1="1014" x2="770" y2="1028"/>
<path class="t" d="M653,1032 V1044 H673 V1032"/>
<text x="678" y="1044">Φ10.5↧6.5</text>
<line class="t" x1="793" y1="1017" x2="793" y2="1052"/>
<line class="t" x1="833" y1="1017" x2="833" y2="1052"/>
<line class="dm" x1="793" y1="1048" x2="833" y2="1048"/>
<text x="813" y="1043" class="m">20</text>
<line class="t" x1="782" y1="1028" x2="782" y2="1076"/>
<line class="t" x1="847" y1="1028" x2="847" y2="1076"/>
<line class="dm" x1="782" y1="1072" x2="847" y2="1072"/>
<text x="813" y="1067" class="m">33</text>

<!-- ===== ROW 4 ===== -->
<text x="58" y="1116" class="ti">大型位置显示器</text>
<text x="58" y="1136" class="ti">安装用防转动固定体</text>
<text x="58" y="1156" style="font-size:16px"><tspan class="gr">SLWZL</tspan><tspan style="fill:#222">(Q12・Q15)</tspan></text>
<text x="135" y="1186" class="m">A–A</text>
<text x="101" y="1206" class="m" style="font-size:14px">①</text>
<text x="133" y="1206" class="m" style="font-size:14px">③</text>
<text x="162" y="1206" class="m" style="font-size:14px">②</text>
<line class="t" x1="104" y1="1212" x2="128" y2="1282"/>
<line class="t" x1="136" y1="1212" x2="140" y2="1295"/>
<line class="t" x1="164" y1="1212" x2="160" y2="1250"/>
<text x="64" y="1260" class="m">(e)</text>
<line class="de" x1="42" y1="1267" x2="95" y2="1267"/>
<line class="t" x1="95" y1="1267" x2="125" y2="1267"/>
<line class="t" x1="95" y1="1262" x2="95" y2="1273"/>
<rect class="kw" x="95" y="1273" width="54" height="115"/>
<rect class="kw" x="149" y="1225" width="25" height="163"/>
<path class="t" d="M199,1223 H235 Q252,1226 256,1240 L258,1258 V1340 Q257,1356 246,1362 L244,1372 H199" style="stroke:#666"/>
<rect class="kw" x="176" y="1223" width="21" height="60"/>
<rect class="d" x="181" y="1230" width="11" height="24" rx="5"/>
<circle cx="187" cy="1272" r="6" class="k"/><circle cx="187" cy="1272" r="2.5" class="t"/>
<rect class="kw" x="176" y="1328" width="21" height="60"/>
<path class="c" d="M197,1265 H262 A7,7 0 0 1 262,1279 H197"/>
<path class="de" d="M199,1229 Q226,1231 232,1262"/>
<rect class="kw" x="90" y="1279" width="10" height="14"/>
<rect class="kw" x="90" y="1333" width="10" height="14"/>
<path class="kw" d="M142,1295 H51 A4,19 0 0 0 51,1333 H142"/>
<path class="t" d="M51,1295 A4,19 0 0 1 51,1333"/>
<line class="t" x1="54" y1="1299" x2="104" y2="1299"/>
<line class="t" x1="54" y1="1329" x2="104" y2="1329"/>
<rect class="t" x="107" y="1280" width="32" height="15"/>
<rect class="t" x="107" y="1333" width="32" height="15"/>
<use href="#bl" x="116" y="1287"/><use href="#bl" x="130" y="1287"/>
<use href="#bl" x="116" y="1340"/><use href="#bl" x="130" y="1340"/>
<rect class="kw" x="139" y="1292" width="35" height="42"/>
<rect class="t" x="152" y="1283" width="14" height="10"/>
<path class="kw" d="M174,1298 H290 A3,15 0 0 1 290,1328 H174"/>
<path class="t" d="M246,1287v10M249,1287v10M252,1287v10M255,1287v10"/>
<line class="c" x1="40" y1="1313" x2="300" y2="1313"/>
<text x="118" y="1320" class="m bl" style="font-size:17px">Q</text>
<line class="dm" x1="132" y1="1299" x2="132" y2="1328"/>
<line class="t" x1="262" y1="1283" x2="322" y2="1283"/>
<line class="t" x1="258" y1="1343" x2="322" y2="1343"/>
<line class="dm" x1="316" y1="1283" x2="316" y2="1343"/>
<text transform="translate(312,1313) rotate(-90)" class="m">E</text>
<line class="t" x1="166" y1="1330" x2="212" y2="1380"/><line class="t" x1="212" y1="1380" x2="234" y2="1380"/>
<text x="224" y="1377" class="m" style="font-size:14px">④</text>
<line class="t" x1="197" y1="1365" x2="212" y2="1398"/><line class="t" x1="212" y1="1398" x2="234" y2="1398"/>
<text x="226" y="1395" class="m" style="font-size:14px">⑤</text>
<rect class="d" x="118" y="1362" width="58" height="11"/>
<path class="t" d="M118,1363 L112,1367.5 L118,1372"/>
<rect class="kw" x="176" y="1358" width="18" height="19"/>
<text x="39" y="1375" style="font-size:14px">30度</text>
<text x="29" y="1393" style="font-size:13px">梯形丝杠</text>
<line class="t" x1="83" y1="1381" x2="91" y2="1333"/>
<line class="d" x1="124" y1="1362" x2="124" y2="1414"/>
<line class="t" x1="95" y1="1388" x2="95" y2="1434"/>
<line class="t" x1="149" y1="1388" x2="149" y2="1434"/>
<line class="t" x1="197" y1="1388" x2="197" y2="1434"/>
<line class="t" x1="274" y1="1345" x2="274" y2="1434"/>
<line class="dm" x1="95" y1="1410" x2="124" y2="1410"/>
<text x="110" y="1404" class="m">L/2</text>
<line class="dm" x1="95" y1="1430" x2="149" y2="1430"/>
<line class="dm" x1="149" y1="1430" x2="197" y2="1430"/>
<line class="dm" x1="197" y1="1430" x2="274" y2="1430"/>
<text x="122" y="1425" class="m">L</text>
<text x="172" y="1425" class="m">R</text>
<text x="237" y="1425" class="m">(44.5)</text>

<!-- R4 front -->
<use href="#hd" transform="translate(366,1195)"/>
<rect class="t" x="414" y="1266" width="6" height="16"/>
<rect class="k" x="420" y="1226" width="98" height="164"/>
<path class="k" d="M420,1317 H395 V1390 H543 V1317 H518"/>
<line x1="420" y1="1390" x2="518" y2="1390" stroke="#1c1c1c" stroke-width="3"/>
<line class="d" x1="424" y1="1232" x2="514" y2="1232"/>
<path class="t" d="M432,1229v6M444,1229v6M456,1229v6M480,1229v6M492,1229v6M504,1229v6"/>
<rect class="d" x="451" y="1244" width="36" height="10" rx="5"/>
<line class="d" x1="404" y1="1317" x2="404" y2="1390"/><line class="d" x1="412" y1="1317" x2="412" y2="1390"/>
<line class="d" x1="527" y1="1317" x2="527" y2="1390"/><line class="d" x1="535" y1="1317" x2="535" y2="1390"/>
<rect class="d" x="430" y="1276" width="76" height="88"/>
<circle cx="468" cy="1315" r="35" class="d"/>
<circle cx="468" cy="1315" r="29" class="d"/>
<path d="M466,1226 V1254 M470,1226 V1254 M466,1266 V1301 M470,1266 V1301" stroke="#1c1c1c" stroke-width="1.3"/>
<circle cx="468" cy="1260" r="6" class="k" style="stroke-width:1.4"/>
<circle cx="468" cy="1315" r="14" fill="#fff" stroke="#1c1c1c" stroke-width="2.6"/>
<path class="kw" d="M518,1295 A20,20 0 0 0 518,1335"/>
<use href="#bt" x="451" y="1372"/><use href="#bt" x="487" y="1372"/>
<line class="c" x1="468" y1="1203" x2="468" y2="1420"/>
<line class="c" x1="355" y1="1274" x2="515" y2="1274"/>
<line class="c" x1="355" y1="1315" x2="550" y2="1315"/>
<line class="de" x1="481" y1="1210" x2="469" y2="1210"/>
<text x="483" y="1215">A</text>
<line class="dm" x1="362" y1="1274" x2="362" y2="1315"/>
<text transform="translate(360,1294) rotate(-90)" class="m">23</text>
<line class="t" x1="355" y1="1372" x2="441" y2="1372"/>
<line class="dm" x1="362" y1="1315" x2="362" y2="1372"/>
<text transform="translate(360,1344) rotate(-90)" class="m">30</text>
<line class="t" x1="475" y1="1260" x2="559" y2="1260"/>
<line class="dm" x1="553" y1="1260" x2="553" y2="1315"/>
<text transform="translate(548,1288) rotate(-90)" class="m">30</text>
<line class="t" x1="518" y1="1226" x2="580" y2="1226"/>
<line class="t" x1="543" y1="1390" x2="580" y2="1390"/>
<line class="dm" x1="574" y1="1226" x2="574" y2="1390"/>
<text transform="translate(570,1308) rotate(-90)" class="m">88.5</text>
<text x="547" y="1208">2–d</text>
<line class="t" x1="547" y1="1212" x2="582" y2="1212"/>
<line class="t" x1="547" y1="1212" x2="524" y2="1317"/>
<line class="de" x1="481" y1="1405" x2="469" y2="1405"/>
<text x="484" y="1415">A</text>
<line class="t" x1="451" y1="1381" x2="451" y2="1434"/>
<line class="t" x1="487" y1="1381" x2="487" y2="1434"/>
<line class="dm" x1="451" y1="1430" x2="487" y2="1430"/>
<text x="468" y="1426" class="m">20</text>
<line class="t" x1="420" y1="1390" x2="420" y2="1457"/>
<line class="t" x1="518" y1="1390" x2="518" y2="1457"/>
<line class="dm" x1="420" y1="1453" x2="518" y2="1453"/>
<text x="468" y="1448" class="m">52</text>

<!-- R4 right -->
<line class="t" x1="687" y1="1149" x2="687" y2="1192"/>
<line class="t" x1="763" y1="1149" x2="763" y2="1222"/>
<line class="dm" x1="687" y1="1155" x2="763" y2="1155"/>
<text x="725" y="1150" class="m">38.5</text>
<line class="t" x1="695" y1="1171" x2="695" y2="1188"/>
<line class="dm" x1="695" y1="1177" x2="763" y2="1177"/>
<text x="728" y="1172" class="m">35</text>
<line class="t" x1="674" y1="1187" x2="700" y2="1187"/>
<line class="dm" x1="679" y1="1187" x2="679" y2="1275"/>
<text transform="translate(675,1231) rotate(-90)" class="m">45</text>
<line class="c" x1="688" y1="1191" x2="700" y2="1228"/>
<use href="#hd" transform="translate(705,1196)"/>
<rect class="t" x="753" y="1267" width="10" height="16"/>
<rect class="kw" x="763" y="1222" width="103" height="175"/>
<line class="d" x1="763" y1="1269" x2="866" y2="1269"/>
<line class="d" x1="763" y1="1281" x2="866" y2="1281"/>
<path d="M811,1222 V1252 M815,1222 V1252 M811,1263 V1303 M815,1263 V1303" stroke="#1c1c1c" stroke-width="1.3"/>
<circle cx="813" cy="1257" r="6" class="k" style="stroke-width:1.4"/>
<circle cx="813" cy="1318" r="26" class="d"/>
<circle cx="813" cy="1318" r="15" fill="#fff" stroke="#1c1c1c" stroke-width="2.6"/>
<path class="kw" d="M866,1298 A20,20 0 0 0 866,1338"/>
<line class="c" x1="813" y1="1205" x2="813" y2="1415"/>
<line class="c" x1="785" y1="1318" x2="860" y2="1318"/>
<line class="c" x1="674" y1="1275" x2="955" y2="1275"/>
<use href="#bt" x="793" y="1377"/><use href="#bt" x="833" y="1377"/>
<line class="de" x1="793" y1="1211" x2="811" y2="1211"/>
<line class="de" x1="857" y1="1211" x2="815" y2="1211"/>
<text x="847" y="1205" class="m">(2)</text>
<text x="900" y="1206">M6</text>
<line class="t" x1="900" y1="1210" x2="935" y2="1210"/>
<line class="t" x1="867" y1="1272" x2="902" y2="1210"/>
<text transform="translate(902,1303) rotate(-25)" class="m">R15</text>
<line class="t" x1="850" y1="1320" x2="923" y2="1303"/>
<line class="t" x1="866" y1="1222" x2="980" y2="1222"/>
<line class="t" x1="820" y1="1258" x2="955" y2="1258"/>
<line class="t" x1="872" y1="1318" x2="955" y2="1318"/>
<line class="t" x1="843" y1="1377" x2="955" y2="1377"/>
<line class="t" x1="866" y1="1397" x2="980" y2="1397"/>
<line class="t" x1="945" y1="1242" x2="945" y2="1258"/>
<line class="dm" x1="945" y1="1258" x2="945" y2="1275"/>
<text transform="translate(942,1266) rotate(-90)" class="m">7</text>
<line class="dm" x1="945" y1="1275" x2="945" y2="1318"/>
<text transform="translate(942,1297) rotate(-90)" class="m">23</text>
<line class="dm" x1="945" y1="1318" x2="945" y2="1377"/>
<text transform="translate(942,1348) rotate(-90)" class="m">30</text>
<line class="t" x1="945" y1="1377" x2="945" y2="1414"/>
<line class="de" x1="945" y1="1414" x2="945" y2="1397"/>
<text transform="translate(942,1388) rotate(-90)" class="m">9</text>
<line class="dm" x1="970" y1="1222" x2="970" y2="1397"/>
<text transform="translate(966,1309) rotate(-90)" class="m">87.5</text>
<line class="t" x1="828" y1="1322" x2="828" y2="1358"/>
<line class="t" x1="845" y1="1322" x2="845" y2="1358"/>
<line class="de" x1="816" y1="1353" x2="828" y2="1353"/>
<line class="de" x1="867" y1="1353" x2="845" y2="1353"/>
<text transform="translate(841,1342) rotate(-90)" class="m">8</text>
<line class="t" x1="712" y1="1286" x2="712" y2="1322"/>
<line class="dm" x1="712" y1="1318" x2="763" y2="1318"/>
<text x="738" y="1312" class="m">25.8</text>
<text x="633" y="1392">2–Φ6.5<tspan style="font-size:12px">通孔</tspan></text>
<line class="t" x1="627" y1="1397" x2="763" y2="1397"/>
<line class="t" x1="786" y1="1383" x2="750" y2="1397"/>
<path class="t" d="M633,1401 V1413 H653 V1401"/>
<text x="658" y="1413">Φ10.5↧6.5</text>
<line class="t" x1="793" y1="1386" x2="793" y2="1424"/>
<line class="t" x1="833" y1="1386" x2="833" y2="1424"/>
<line class="dm" x1="793" y1="1420" x2="833" y2="1420"/>
<text x="813" y="1415" class="m">20</text>
<line class="t" x1="763" y1="1397" x2="763" y2="1445"/>
<line class="t" x1="866" y1="1397" x2="866" y2="1445"/>
<line class="dm" x1="763" y1="1441" x2="866" y2="1441"/>
<text x="813" y="1436" class="m">52</text>
</svg>
</body></html>
